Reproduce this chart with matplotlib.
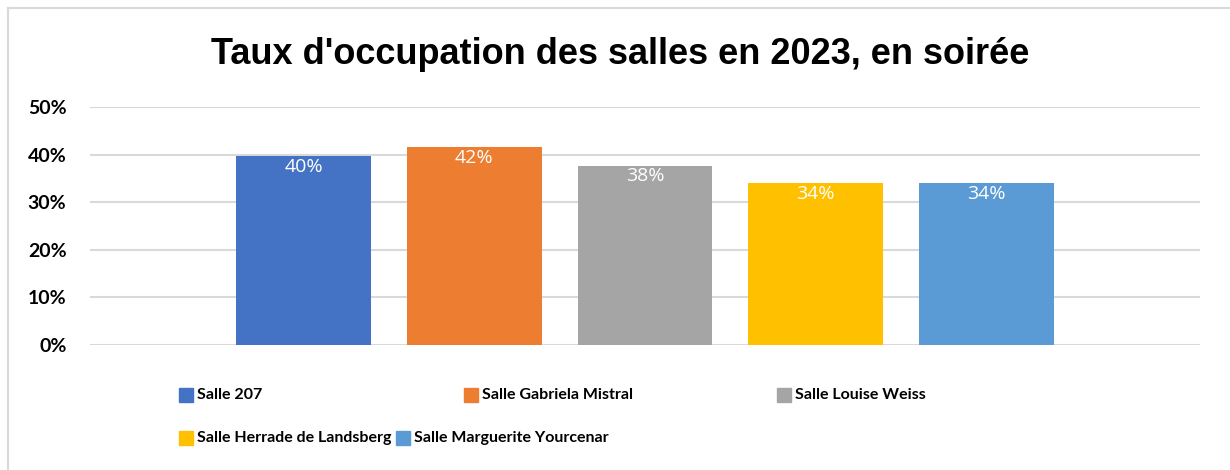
import matplotlib.pyplot as plt
from matplotlib.patches import Rectangle
from matplotlib.lines import Line2D
from matplotlib.ticker import PercentFormatter

# données
salles = ["Salle 207", "Salle Gabriela Mistral", "Salle Louise Weiss",
          "Salle Herrade de Landsberg", "Salle Marguerite Yourcenar"]
taux = [0.397, 0.416, 0.377, 0.340, 0.340]
etiquettes = ["40%", "42%", "38%", "34%", "34%"]
couleurs = ["#4472C4", "#ED7D31", "#A5A5A5", "#FFC000", "#5B9BD5"]
yticks = [0, 0.1, 0.2, 0.3, 0.4, 0.5]

police = ["Lato", "DejaVu Sans"]

fig = plt.figure(figsize=(12.3, 4.7), dpi=100)
ax = fig.add_axes([90/1230, 1-345/470, 1110/1230, 238/470])

x = list(range(len(salles)))
bars = ax.bar(x, taux, width=0.79, color=couleurs, zorder=3)
for b, lab in zip(bars, etiquettes):
    ax.text(b.get_x() + b.get_width()/2, b.get_height() - 0.004, lab,
            ha="center", va="top", color="white", fontsize=14,
            family=["Open Sans", "DejaVu Sans"])

ax.set_xlim(-1.25, 5.25)
ax.set_ylim(0, 0.5)
ax.set_yticks(yticks)
ax.yaxis.set_major_formatter(PercentFormatter(1.0, decimals=0))
ax.set_xticks([])
ax.grid(axis="y", color="#d9d9d9", linewidth=1.5, zorder=0)
for s in ax.spines.values():
    s.set_visible(False)
ax.tick_params(axis="y", length=0, pad=17)
for t in ax.get_yticklabels():
    t.set_fontweight("bold")
    t.set_fontsize(14)
    t.set_family(police)

fig.text(620/1230, 1-55/470, "Taux d'occupation des salles en 2023, en soirée",
         ha="center", va="center", fontsize=26, fontweight="bold",
         family=["Liberation Sans Narrow", "Liberation Sans", "DejaVu Sans"])

# légende placée comme dans Excel
pos_legende = [(179, 395), (464, 395), (777, 395), (179, 438), (396, 438)]
for (px, py), nom, c in zip(pos_legende, salles, couleurs):
    fig.patches.append(Rectangle((px/1230, 1-(py+7)/470), 14/1230, 14/470,
                                 transform=fig.transFigure, color=c))
    fig.text((px+18)/1230, 1-py/470, nom, ha="left", va="center",
             fontsize=11.5, fontweight="bold", family=police)

# cadre
fig.add_artist(Line2D([8/1230, 1], [1-8/470, 1-8/470], color="#d9d9d9", lw=1.5))
fig.add_artist(Line2D([8/1230, 8/1230], [0, 1-8/470], color="#d9d9d9", lw=1.5))

fig.savefig("out.png", dpi=100)
